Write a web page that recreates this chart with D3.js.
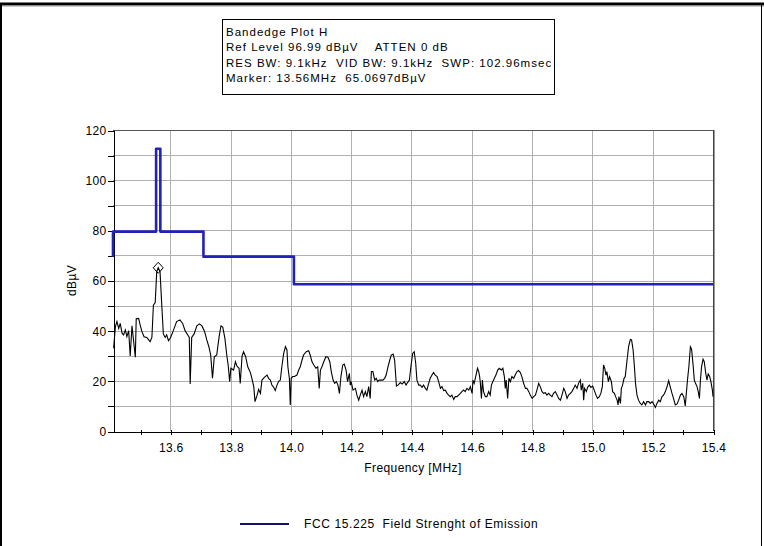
<!DOCTYPE html>
<html><head><meta charset="utf-8">
<script src="https://cdn.jsdelivr.net/npm/d3@7"></script>
<style>
body{margin:0;background:#fff}
svg{display:block}
text{font-family:"Liberation Sans",Arial,sans-serif;fill:#000}
</style>
</head><body>
<script>
// ---------- data ----------
const headerLines = [
  "Bandedge Plot H",
  "Ref Level 96.99 dB\u00b5V    ATTEN 0 dB",
  "RES BW: 9.1kHz  VID BW: 9.1kHz  SWP: 102.96msec",
  "Marker: 13.56MHz  65.0697dB\u00b5V"
];
const yTickValues = [0, 20, 40, 60, 80, 100, 120];
const yMinorValues = [0,10,20,30,40,50,60,70,80,90,100,110,120];
const xTickLabels = ["13.6","13.8","14.0","14.2","14.4","14.6","14.8","15.0","15.2","15.4"];
const xMinorValues = [13.5,13.6,13.7,13.8,13.9,14.0,14.1,14.2,14.3,14.4,14.5,14.6,14.7,14.8,14.9,15.0,15.1,15.2,15.3,15.4];
const xTitle = "Frequency [MHz]";
const yTitle = "dB\u00b5V";
const legendLabel = "FCC 15.225  Field Strenght of Emission";

// limit line (FCC 15.225) vertices
const limitFreq  = [13.41, 13.41, 13.553, 13.553, 13.567, 13.567, 13.71, 13.71, 14.01, 14.01, 15.4];
const limitLevel = [69.5, 79.5, 79.5, 112.5, 112.5, 79.5, 79.5, 69.5, 69.5, 58.5, 58.5];

// marker
const markerFreq = 13.56;
const markerLevel = 65.0697;

// measured trace
const traceFreq = [
13.412,13.418,13.423,13.429,13.434,13.440,13.445,13.451,13.456,13.462,
13.467,13.473,13.478,13.484,13.487,13.495,13.500,13.506,13.513,13.522,
13.533,13.539,13.544,13.550,13.555,13.560,13.566,13.572,13.577,13.583,
13.588,13.594,13.601,13.610,13.621,13.632,13.641,13.649,13.658,13.663,
13.666,13.671,13.679,13.688,13.697,13.705,13.714,13.721,13.728,13.734,
13.740,13.746,13.754,13.762,13.768,13.774,13.781,13.788,13.792,13.797,
13.801,13.810,13.816,13.821,13.828,13.832,13.838,13.843,13.850,13.857,
13.866,13.872,13.877,13.881,13.888,13.893,13.899,
13.904,13.912,13.921,13.926,13.932,13.937,13.943,13.948,13.954,13.959,
13.965,13.970,13.976,13.982,13.987,13.990,13.995,13.998,14.001,14.006,
14.012,14.020,14.026,14.031,14.037,14.042,14.051,14.059,14.064,14.070,
14.076,14.083,14.089,14.094,14.098,14.103,14.109,14.116,14.123,14.129,
14.134,14.140,14.145,14.151,14.156,14.161,14.166,14.172,14.177,14.183,
14.188,14.194,14.197,14.200,14.206,14.214,14.219,14.225,14.230,14.236,
14.241,14.247,14.252,14.258,14.263,14.267,14.272,14.278,14.283,14.288,
14.293,14.299,14.305,14.311,14.316,14.322,14.328,14.333,14.339,14.344,
14.350,14.355,14.363,14.369,14.376,14.382,14.387,14.393,14.398,14.404,
14.409,14.414,14.418,14.424,
14.429,14.435,14.440,14.446,14.451,14.457,14.462,14.468,14.473,14.479,
14.485,14.490,14.496,14.501,14.507,14.512,14.518,14.523,14.529,14.534,
14.540,14.545,14.551,14.556,14.562,14.567,14.573,14.578,14.584,14.590,
14.595,14.601,14.604,14.608,14.614,14.619,14.623,14.626,14.628,14.632,
14.635,14.639,14.645,14.650,14.656,14.661,14.665,14.670,14.675,14.680,
14.686,14.691,14.698,14.703,14.708,14.711,14.714,14.719,14.723,14.728,
14.733,14.739,14.744,14.750,14.755,14.761,14.766,14.772,14.778,14.783,
14.789,14.794,14.800,14.805,14.811,14.816,14.822,14.827,14.833,14.838,
14.844,14.849,14.855,14.860,14.866,14.871,14.877,14.883,14.888,14.894,
14.899,14.905,14.910,14.916,14.921,14.927,14.932,14.938,14.943,14.949,
14.954,
14.960,14.963,14.968,14.971,14.974,14.980,14.984,14.990,14.995,15.001,
15.006,15.012,15.017,15.023,15.028,15.033,15.037,15.041,15.045,15.048,
15.053,15.057,15.063,15.067,15.073,15.077,15.082,15.085,15.088,15.093,
15.096,15.100,15.105,15.109,15.115,15.120,15.126,15.130,15.135,15.139,
15.143,15.148,15.153,15.159,15.164,15.170,15.176,15.181,15.187,15.192,
15.198,15.203,15.209,15.214,15.220,15.225,15.231,15.236,15.242,15.247,
15.253,15.258,15.264,15.269,15.275,15.281,15.286,15.292,15.297,15.303,
15.308,15.312,15.316,15.320,15.325,15.329,15.334,15.338,15.342,15.347,
15.351,15.355,15.358,15.362,15.367,15.371,15.376,15.380,15.384,15.389,
15.393,15.398,15.400
];
const traceLevel = [
33.0,41.6,43.6,40.9,42.9,39.0,38.3,40.3,37.6,40.0,
29.9,41.9,36.3,29.4,44.8,44.9,42.3,39.6,37.6,37.3,
35.6,37.3,50.2,51.2,63.5,65.1,63.5,49.6,38.7,37.3,
38.3,36.0,37.3,40.0,43.6,44.3,42.9,40.0,38.3,37.3,
18.7,37.3,38.7,41.9,42.7,41.9,39.6,36.3,33.6,30.3,
21.0,29.6,30.3,37.6,41.9,41.4,37.0,29.6,26.3,19.7,
25.0,24.3,27.6,25.9,25.0,19.0,29.9,31.6,29.6,25.6,
23.2,20.3,17.6,11.7,14.3,16.6,15.0,
20.3,21.4,22.3,21.0,20.3,18.3,17.4,16.1,18.3,19.7,
20.3,25.6,30.9,33.6,32.3,25.6,21.0,10.4,21.0,21.7,
21.7,22.3,24.3,25.6,28.3,30.3,31.6,32.0,30.3,27.6,
26.3,25.0,25.6,17.0,24.3,25.6,27.6,29.6,29.4,27.6,
23.7,20.3,19.0,19.7,18.3,15.0,21.7,26.3,26.7,24.3,
19.7,23.0,18.3,19.7,16.3,17.0,14.3,12.3,14.3,16.3,
13.7,15.7,13.7,17.7,13.0,23.7,23.7,20.3,21.0,19.7,
20.3,20.3,20.3,21.0,22.3,25.6,28.3,30.3,30.7,28.3,
17.9,18.3,19.3,18.7,19.7,18.3,19.3,20.3,25.6,30.9,
31.6,27.0,20.3,18.3,
18.3,17.4,18.3,17.0,16.3,19.0,21.0,22.3,23.3,22.3,
21.7,19.7,17.0,17.7,16.1,16.3,15.0,14.3,13.7,14.3,
12.6,13.7,13.7,14.3,15.0,15.7,16.3,15.7,17.0,16.3,
17.7,15.0,20.3,19.0,22.3,25.0,23.7,21.7,19.7,13.0,
20.3,15.7,13.7,13.7,15.7,14.3,18.3,19.7,21.0,22.3,
24.3,25.0,24.3,25.0,21.7,17.0,20.3,13.0,21.0,19.7,
21.7,21.0,22.3,23.7,24.1,23.3,21.7,19.0,17.0,17.0,
15.7,14.3,13.0,13.7,14.3,16.3,19.0,17.7,15.7,15.0,
15.3,14.3,15.0,14.3,13.7,15.0,15.7,14.3,13.0,12.3,
14.3,17.0,15.7,13.0,14.3,15.0,15.7,17.0,18.3,17.0,
19.0,
20.3,16.3,19.0,12.3,17.0,15.7,17.4,18.3,17.4,17.9,
16.3,14.3,13.0,13.7,15.0,17.7,26.3,25.0,22.3,23.7,
19.7,21.7,19.7,15.7,15.0,13.7,12.3,10.4,13.7,11.0,
17.0,18.3,21.0,21.7,28.3,33.6,36.5,36.3,32.3,26.3,
19.0,14.3,12.3,11.0,10.4,11.7,10.4,11.7,11.7,11.0,
11.7,10.8,9.4,11.0,12.3,11.7,13.7,14.3,15.7,17.4,
20.1,17.7,15.0,13.0,10.4,10.8,12.3,14.3,15.0,13.7,
10.0,15.7,21.0,25.6,33.6,32.6,26.3,20.3,19.0,17.7,
15.7,13.0,19.7,25.6,28.6,27.6,23.0,20.3,22.7,21.7,
19.7,16.3,13.7
];

// ---------- drawing ----------
const W = 764, H = 546;
const svg = d3.select("body").append("svg").attr("width", W).attr("height", H);
const P = {l: 113, r: 713, t: 130, b: 431};
const x = d3.scaleLinear().domain([13.41, 15.4]).range([P.l, P.r]);
const y = d3.scaleLinear().domain([0, 120]).range([P.b, P.t]);

// outer frame
svg.append("rect").attr("x", 0).attr("y", 0).attr("width", W).attr("height", H).attr("fill", "#fff");
svg.append("line").attr("x1", 0).attr("x2", W).attr("y1", 4).attr("y2", 4).attr("stroke", "#000").attr("stroke-width", 3);
svg.append("line").attr("x1", 0).attr("x2", W).attr("y1", 6).attr("y2", 6).attr("stroke", "#999").attr("stroke-width", 1);
svg.append("line").attr("x1", 1).attr("x2", 1).attr("y1", 3).attr("y2", H).attr("stroke", "#000").attr("stroke-width", 2);
svg.append("line").attr("x1", 761.5).attr("x2", 761.5).attr("y1", 3).attr("y2", H).attr("stroke", "#000").attr("stroke-width", 1);

// header box
const hb = svg.append("g");
hb.append("rect").attr("x", 222.5).attr("y", 19.5).attr("width", 332).attr("height", 75)
  .attr("fill", "#fff").attr("stroke", "#000").attr("stroke-width", 1);
hb.selectAll("text").data(headerLines).join("text")
  .attr("x", 226).attr("y", (d, i) => 36 + i * 15.3)
  .style("font-size", "11.5px").style("letter-spacing", "1.02px").style("white-space", "pre")
  .text(d => d);

// grid
const g = svg.append("g").attr("shape-rendering", "crispEdges");
g.selectAll("line.hg").data(yMinorValues.filter(v => v > 0 && v < 120)).join("line")
  .attr("class", "hg").attr("x1", P.l).attr("x2", P.r)
  .attr("y1", d => Math.round(y(d)) + 0.5).attr("y2", d => Math.round(y(d)) + 0.5)
  .attr("stroke", "#b0b0b0");
g.selectAll("line.vg").data(xTickLabels.map(Number).filter(v => v < 15.39)).join("line")
  .attr("class", "vg").attr("y1", P.t).attr("y2", P.b)
  .attr("x1", d => Math.round(x(d)) + 0.5).attr("x2", d => Math.round(x(d)) + 0.5)
  .attr("stroke", "#b0b0b0");

// plot border top/right
g.append("line").attr("x1", P.l).attr("x2", P.r + 1).attr("y1", P.t + 0.5).attr("y2", P.t + 0.5).attr("stroke", "#555");
g.append("line").attr("x1", P.r + 0.5).attr("x2", P.r + 0.5).attr("y1", P.t).attr("y2", P.b).attr("stroke", "#444").attr("stroke-width", 1);
g.append("line").attr("x1", P.r + 1.5).attr("x2", P.r + 1.5).attr("y1", P.t).attr("y2", P.b).attr("stroke", "#999").attr("stroke-width", 1);

// y axis
const yAxis = d3.axisLeft(y).tickValues(yMinorValues).tickSize(6).tickSizeOuter(0).tickPadding(1)
  .tickFormat(d => yTickValues.includes(d) ? d : "");
const ya = svg.append("g").attr("transform", `translate(${P.l + 0.5},0.5)`).call(yAxis);
ya.select(".domain").attr("stroke", "#000");
ya.selectAll("line").attr("stroke", "#000");
ya.selectAll("text").style("font-size", "12px").style("letter-spacing", "0.3px").style("font-family", "'Liberation Sans',Arial,sans-serif").attr("fill", "#000");
ya.attr("shape-rendering", "crispEdges");

// x axis
const xAxis = d3.axisBottom(x).tickValues(xMinorValues).tickSize(3).tickSizeOuter(0).tickPadding(9)
  .tickFormat(d => { const s = d.toFixed(1); return xTickLabels.includes(s) ? s : ""; });
const xa = svg.append("g").attr("transform", `translate(0.5,${P.b + 0.5})`).call(xAxis);
xa.select(".domain").attr("stroke", "#000");
xa.selectAll(".tick line").attr("stroke", "#000").attr("y1", -2);
xa.selectAll("text").style("font-size", "12px").style("letter-spacing", "0.3px").style("font-family", "'Liberation Sans',Arial,sans-serif").attr("fill", "#000");
xa.attr("shape-rendering", "crispEdges");

// axis titles
svg.append("text").attr("x", (P.l + P.r) / 2).attr("y", 472).attr("text-anchor", "middle")
  .style("font-size", "12px").style("letter-spacing", "0.4px").text(xTitle);
svg.append("text").attr("transform", `translate(76,${(P.t + P.b) / 2}) rotate(-90)`).attr("text-anchor", "middle")
  .style("font-size", "12px").style("letter-spacing", "0.4px").text(yTitle);

// trace
const trace = d3.zip(traceFreq, traceLevel);
svg.append("path").datum(trace)
  .attr("d", d3.line().x(d => x(d[0])).y(d => y(d[1])))
  .attr("fill", "none").attr("stroke", "#000").attr("stroke-width", 1.1);

// limit line
const limit = d3.zip(limitFreq, limitLevel);
svg.append("path").datum(limit)
  .attr("d", d3.line().x(d => x(d[0])).y(d => y(d[1])))
  .attr("fill", "none").attr("stroke", "#2222b8").attr("stroke-width", 2.6)
  .attr("stroke-linejoin", "round");

// marker diamond
const mx = x(markerFreq), my = y(markerLevel);
svg.append("path")
  .attr("d", `M${mx},${my - 5.5}L${mx + 5},${my}L${mx},${my + 5.5}L${mx - 5},${my}Z`)
  .attr("fill", "none").attr("stroke", "#000").attr("stroke-width", 1);

// legend
svg.append("line").attr("x1", 240).attr("x2", 289).attr("y1", 524).attr("y2", 524)
  .attr("stroke", "#12126e").attr("stroke-width", 2.2);
svg.append("text").attr("x", 304).attr("y", 528).style("font-size", "12px").style("letter-spacing", "0.6px")
  .style("white-space", "pre").text(legendLabel);
</script>
</body></html>
